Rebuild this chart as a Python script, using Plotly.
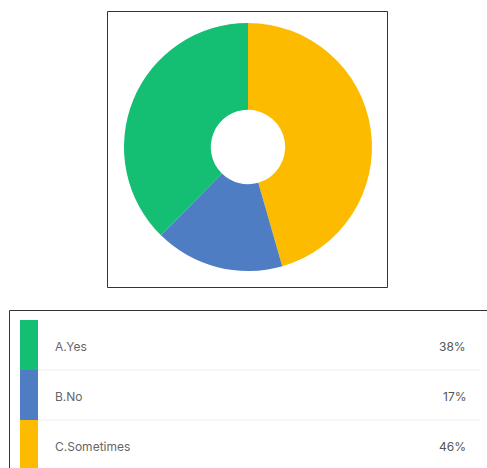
import plotly.graph_objects as go

labels = ["A.Yes", "B.No", "C.Sometimes"]
values = [38, 17, 46]
pct_labels = ["38%", "17%", "46%"]
colors = ["#14BE73", "#4F7DC4", "#FDBB00"]

W, H = 487, 468

def px(x):
    return x / W

def py(y):
    return 1 - y / H

cx, cy, r = 248, 147, 124

fig = go.Figure(go.Pie(
    labels=labels[::-1], values=values[::-1], hole=0.3, sort=False,
    direction="clockwise", rotation=0,
    marker=dict(colors=colors[::-1], line=dict(width=0)),
    textinfo="none", hoverinfo="label+percent", showlegend=False,
    domain=dict(x=[px(cx - r), px(cx + r)], y=[py(cy + r), py(cy - r)]),
))

shapes = []
# box around donut
shapes.append(dict(type="rect", xref="paper", yref="paper",
                   x0=px(107.5), x1=px(387.5), y0=py(287.5), y1=py(11.5),
                   line=dict(color="#333333", width=1)))
# legend box
shapes.append(dict(type="rect", xref="paper", yref="paper",
                   x0=px(9.5), x1=px(492), y0=py(475), y1=py(310.5),
                   line=dict(color="#333333", width=1)))

annotations = []
row_top = 320
row_h = 50
for i, (lab, pct, col) in enumerate(zip(labels, pct_labels, colors)):
    y0 = row_top + i * row_h
    y1 = y0 + row_h
    shapes.append(dict(type="rect", xref="paper", yref="paper",
                       x0=px(20), x1=px(38), y0=py(min(y1, 470)), y1=py(y0),
                       fillcolor=col, line=dict(width=0)))
    if i < len(labels) - 1:
        shapes.append(dict(type="line", xref="paper", yref="paper",
                           x0=px(38), x1=px(480), y0=py(y1), y1=py(y1),
                           line=dict(color="#EDEDED", width=1)))
    ym = y0 + 26
    annotations.append(dict(xref="paper", yref="paper", x=px(53), y=py(ym),
                            text=lab, showarrow=False, xanchor="left", yanchor="middle",
                            font=dict(family="Inter, Noto Sans, sans-serif", size=12, color="#666666")))
    annotations.append(dict(xref="paper", yref="paper", x=px(468), y=py(ym),
                            text=pct, showarrow=False, xanchor="right", yanchor="middle",
                            font=dict(family="Inter, Noto Sans, sans-serif", size=12, color="#555555")))

fig.update_layout(
    width=W, height=H, autosize=False,
    margin=dict(l=0, r=0, t=0, b=0),
    paper_bgcolor="white", plot_bgcolor="white",
    shapes=shapes, annotations=annotations,
)

fig.write_html("out.html", config={"displayModeBar": False})
